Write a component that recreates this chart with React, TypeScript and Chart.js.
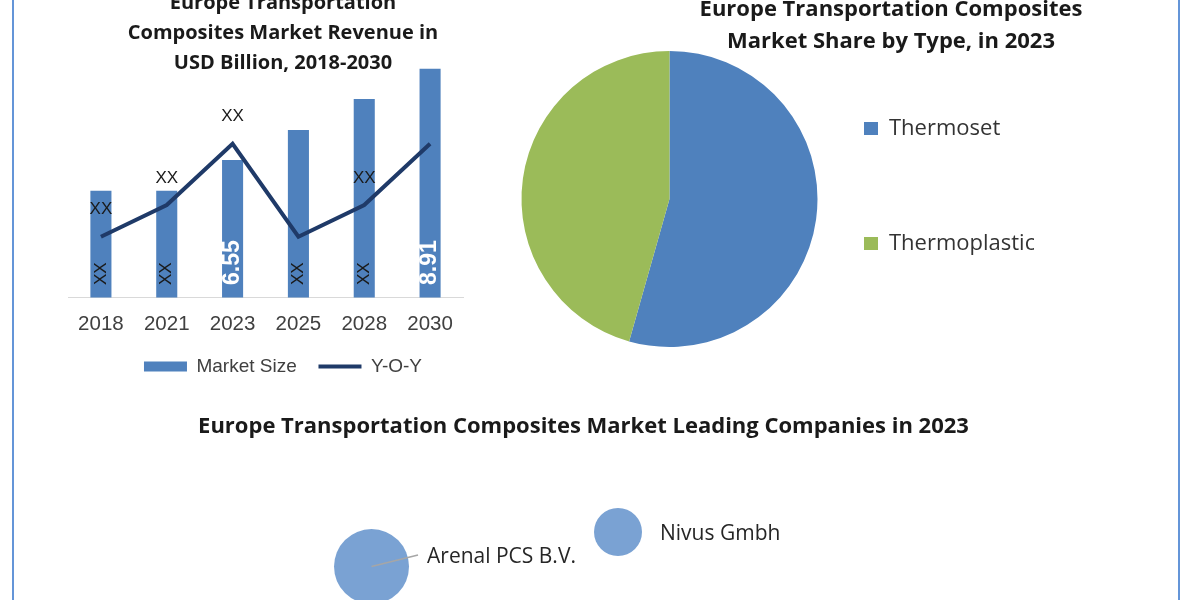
import React, { useEffect, useRef } from 'react';
import { Chart, registerables } from 'chart.js';

Chart.register(...registerables);

// ---------- data ----------
const years = ['2018', '2021', '2023', '2025', '2028', '2030'];
const marketSize = [5.76, 5.76, 6.55, 7.33, 8.13, 8.91];
const marketSizeLabels = ['XX', 'XX', '6.55', 'XX', 'XX', '8.91'];
const yoy = [4.57, 5.39, 6.97, 4.57, 5.39, 6.97];
const yoyLabels = ['XX', 'XX', 'XX', '', 'XX', ''];
const barTitle = ['Europe Transportation', 'Composites Market Revenue in', 'USD Billion, 2018-2030'];

const types = ['Thermoset', 'Thermoplastic'];
const typeShare = [54.4, 45.6];
const pieTitle = ['Europe Transportation Composites', 'Market Share by Type, in 2023'];

const companies = ['Arenal PCS B.V.', 'Nivus Gmbh'];
const companyX = [25.55, 53.98];
const companyY = [38.7, 56.9];
const companyR = [37.5, 24];
const bubbleTitle = 'Europe Transportation Composites Market Leading Companies in 2023';

// ---------- styles ----------
const BLUE = '#4F81BD';
const GREEN = '#9BBB59';
const NAVY = '#1F3A68';
const BUBBLE = '#7AA2D3';
const TITLE_COLOR = '#1a1a1a';
const companyLabelDy = [-9.5, 2];
const companyLeader = [true, false];

const barLabelPlugin = {
  id: 'barLabels',
  afterDatasetsDraw(chart: any) {
    const ctx = chart.ctx;
    const bottom = chart.chartArea.bottom;
    const barMeta = chart.getDatasetMeta(0);
    barMeta.data.forEach((bar: any, i: number) => {
      const text = marketSizeLabels[i];
      const numeric = !isNaN(Number(text));
      ctx.save();
      ctx.translate(bar.x, bottom - 12.5);
      ctx.rotate(-Math.PI / 2);
      ctx.textAlign = 'left';
      ctx.textBaseline = 'middle';
      ctx.font = numeric ? 'bold 23px "Liberation Sans", Arial' : '17px "Liberation Sans", Arial';
      ctx.fillStyle = numeric ? '#ffffff' : '#1a1a1a';
      ctx.fillText(text, 0, 0);
      ctx.restore();
    });
    const lineMeta = chart.getDatasetMeta(1);
    lineMeta.data.forEach((pt: any, i: number) => {
      const text = yoyLabels[i];
      if (!text) return;
      ctx.save();
      ctx.font = '17px "Liberation Sans", Arial';
      ctx.fillStyle = '#1a1a1a';
      ctx.textAlign = 'center';
      ctx.textBaseline = 'middle';
      ctx.fillText(text, pt.x, pt.y - 27);
      ctx.restore();
    });
  },
};

const bubbleLabelPlugin = {
  id: 'bubbleLabels',
  afterDatasetsDraw(chart: any) {
    const ctx = chart.ctx;
    const meta = chart.getDatasetMeta(0);
    meta.data.forEach((el: any, i: number) => {
      const r = el.options.radius;
      const tx = el.x + r + 18;
      const ty = el.y + companyLabelDy[i];
      if (companyLeader[i]) {
        ctx.save();
        ctx.strokeStyle = '#A6A6A6';
        ctx.lineWidth = 1.5;
        ctx.beginPath();
        ctx.moveTo(el.x, el.y);
        ctx.lineTo(tx - 9, ty - 2);
        ctx.stroke();
        ctx.restore();
      }
      ctx.save();
      ctx.font = '21px "Open Sans"';
      ctx.fillStyle = '#262626';
      ctx.textAlign = 'left';
      ctx.textBaseline = 'middle';
      ctx.fillText(companies[i], tx, ty);
      ctx.restore();
    });
  },
};

function BarLineChart() {
  const ref = useRef<HTMLCanvasElement>(null);
  useEffect(() => {
    const yMin = 3;
    const yMax = 9.135;
    const chart = new Chart(ref.current as HTMLCanvasElement, {
      type: 'bar',
      data: {
        labels: years,
        datasets: [
          {
            type: 'bar',
            label: 'Market Size',
            data: marketSize,
            backgroundColor: BLUE,
            barPercentage: 0.32,
            categoryPercentage: 1,
            order: 2,
            yAxisID: 'y',
          } as any,
          {
            type: 'line',
            label: 'Y-O-Y',
            data: yoy,
            borderColor: NAVY,
            backgroundColor: NAVY,
            borderWidth: 4,
            pointRadius: 0,
            tension: 0,
            order: 1,
            yAxisID: 'y1',
          } as any,
        ],
      },
      options: {
        responsive: false,
        animation: false,
        layout: { autoPadding: false, padding: { left: 54, right: 0, top: 0, bottom: 0 } },
        scales: {
          x: {
            grid: { display: false, drawTicks: false },
            border: { display: true, color: '#D9D9D9', width: 1 },
            ticks: { font: { family: '"Liberation Sans", Arial', size: 20.5 }, color: '#404040', padding: 15 },
            afterFit: (s: any) => {
              s.height = 37.8;
            },
          },
          y: { display: false, min: yMin, max: yMax },
          y1: {
            position: 'right',
            min: yMin,
            max: yMax,
            grid: { display: false, drawTicks: false },
            border: { display: false },
            ticks: { display: false },
            afterFit: (s: any) => {
              s.width = 35;
            },
          },
        },
        plugins: {
          title: {
            display: true,
            text: barTitle,
            color: TITLE_COLOR,
            font: { family: '"Open Sans"', weight: 'bold', size: 20, lineHeight: 1.5 },
            padding: { top: 8, bottom: -18 },
          },
          legend: {
            position: 'bottom',
            labels: {
              usePointStyle: true,
              pointStyleWidth: 43,
              boxHeight: 10,
              padding: 21.7,
              color: '#404040',
              font: { family: '"Liberation Sans", Arial', size: 19 },
              generateLabels: (c: any) => {
                const items = (Chart as any).defaults.plugins.legend.labels.generateLabels(c);
                items.sort((a: any, b: any) => a.datasetIndex - b.datasetIndex);
                return items.map((it: any) =>
                  it.datasetIndex === 0
                    ? { ...it, pointStyle: 'rect', lineWidth: 0, fillStyle: BLUE, strokeStyle: BLUE }
                    : { ...it, pointStyle: 'line', lineWidth: 4, fillStyle: NAVY, strokeStyle: NAVY }
                );
              },
            },
          },
          tooltip: { enabled: false },
        },
      } as any,
      plugins: [barLabelPlugin],
    });
    return () => chart.destroy();
  }, []);
  return (
    <canvas
      ref={ref}
      width={484}
      height={406}
      style={{ position: 'absolute', left: 14, top: -20, width: 484, height: 406 }}
    />
  );
}

function PieChart() {
  const ref = useRef<HTMLCanvasElement>(null);
  useEffect(() => {
    const chart = new Chart(ref.current as HTMLCanvasElement, {
      type: 'pie',
      data: {
        labels: types,
        datasets: [
          {
            data: typeShare,
            backgroundColor: [BLUE, GREEN],
            borderWidth: 0,
            radius: 148,
          } as any,
        ],
      },
      options: {
        responsive: false,
        animation: false,
        radius: 148,
        layout: { autoPadding: false, padding: { left: 5, right: 0, top: 67.5, bottom: 69.5 } },
        plugins: {
          legend: {
            position: 'right',
            align: 'start',
            maxWidth: 180,
            labels: {
              boxWidth: 14,
              boxHeight: 13,
              padding: 10,
              color: '#333333',
              font: { family: '"Open Sans"', size: 22, lineHeight: 105 / 22 },
              generateLabels: (c: any) => {
                const items = (Chart as any).overrides.doughnut.plugins.legend.labels.generateLabels(c);
                return items.map((it: any, i: number) =>
                  i < items.length - 1 ? { ...it, text: [it.text] } : it
                );
              },
            },
          },
          tooltip: { enabled: false },
        },
      } as any,
    });
    return () => chart.destroy();
  }, []);
  return (
    <canvas
      ref={ref}
      width={554}
      height={320}
      style={{ position: 'absolute', left: 480, top: 40, width: 554, height: 320 }}
    />
  );
}

function BubbleChart() {
  const ref = useRef<HTMLCanvasElement>(null);
  useEffect(() => {
    const chart = new Chart(ref.current as HTMLCanvasElement, {
      type: 'bubble',
      data: {
        datasets: [
          {
            label: 'Companies',
            data: companies.map((_, i) => ({ x: companyX[i], y: companyY[i], r: companyR[i] })),
            backgroundColor: BUBBLE,
            borderWidth: 0,
          },
        ],
      },
      options: {
        responsive: false,
        animation: false,
        layout: { autoPadding: false, padding: 0 },
        scales: {
          x: { type: 'linear', min: 0, max: 100, display: false },
          y: { type: 'linear', min: 0, max: 100, display: false },
        },
        plugins: {
          title: {
            display: true,
            text: bubbleTitle,
            color: TITLE_COLOR,
            font: { family: '"Open Sans"', weight: 'bold', size: 22, lineHeight: 1.2 },
            padding: { top: 23.8, bottom: 10 },
          },
          legend: { display: false },
          tooltip: { enabled: false },
        },
      } as any,
      plugins: [bubbleLabelPlugin],
    });
    return () => chart.destroy();
  }, []);
  return (
    <canvas
      ref={ref}
      width={867}
      height={250}
      style={{ position: 'absolute', left: 150, top: 390, width: 867, height: 250 }}
    />
  );
}

export default function App() {
  return (
    <div
      style={{
        position: 'absolute',
        left: 0,
        top: 0,
        width: 1200,
        height: 600,
        overflow: 'hidden',
        background: '#ffffff',
      }}
    >
      <div style={{ position: 'absolute', left: 12, top: 0, width: 2, height: 600, background: '#6495D8' }} />
      <div style={{ position: 'absolute', left: 1178, top: 0, width: 2, height: 600, background: '#6495D8' }} />
      <BarLineChart />
      <PieChart />
      <div
        style={{
          position: 'absolute',
          left: 691,
          top: -9,
          width: 400,
          textAlign: 'center',
          fontFamily: '"Open Sans", sans-serif',
          fontWeight: 'bold',
          fontSize: 22,
          lineHeight: '32px',
          color: TITLE_COLOR,
          whiteSpace: 'nowrap',
        }}
      >
        {pieTitle.map((t) => (
          <div key={t}>{t}</div>
        ))}
      </div>
      <BubbleChart />
    </div>
  );
}
